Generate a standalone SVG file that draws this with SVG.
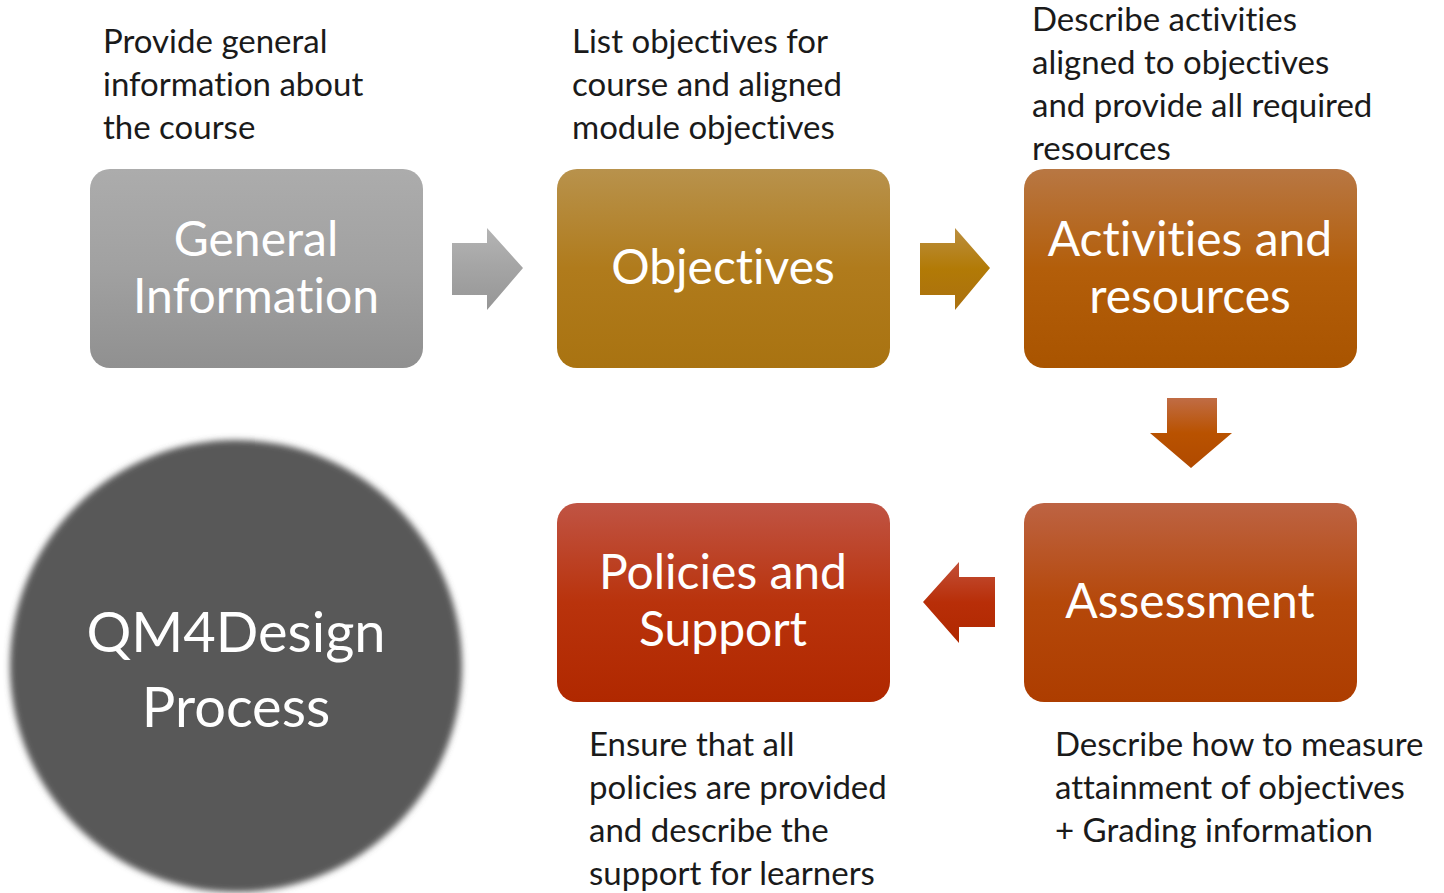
<svg xmlns="http://www.w3.org/2000/svg" width="1444" height="893" viewBox="0 0 1444 893">
  <defs>
    <linearGradient id="gGray" x1="0" y1="0" x2="0" y2="1">
      <stop offset="0" stop-color="#acacac"/>
      <stop offset="0.5" stop-color="#a1a1a1"/>
      <stop offset="1" stop-color="#909090"/>
    </linearGradient>
    <linearGradient id="gGold" x1="0" y1="0" x2="0" y2="1">
      <stop offset="0" stop-color="#b8924c"/>
      <stop offset="0.5" stop-color="#b07b1c"/>
      <stop offset="1" stop-color="#a97311"/>
    </linearGradient>
    <linearGradient id="gOrange" x1="0" y1="0" x2="0" y2="1">
      <stop offset="0" stop-color="#b87743"/>
      <stop offset="0.5" stop-color="#b35e0a"/>
      <stop offset="1" stop-color="#a95400"/>
    </linearGradient>
    <linearGradient id="gRust" x1="0" y1="0" x2="0" y2="1">
      <stop offset="0" stop-color="#bd6343"/>
      <stop offset="0.5" stop-color="#b5480a"/>
      <stop offset="1" stop-color="#ad3d00"/>
    </linearGradient>
    <linearGradient id="gRed" x1="0" y1="0" x2="0" y2="1">
      <stop offset="0" stop-color="#c05444"/>
      <stop offset="0.5" stop-color="#b9330c"/>
      <stop offset="1" stop-color="#b02800"/>
    </linearGradient>
    <linearGradient id="aGray" x1="0" y1="0" x2="0" y2="1">
      <stop offset="0" stop-color="#b4b4b4"/>
      <stop offset="0.5" stop-color="#a4a4a4"/>
      <stop offset="1" stop-color="#969696"/>
    </linearGradient>
    <linearGradient id="aGold" x1="0" y1="0" x2="0" y2="1">
      <stop offset="0" stop-color="#bb8f40"/>
      <stop offset="0.5" stop-color="#b27a06"/>
      <stop offset="1" stop-color="#aa7010"/>
    </linearGradient>
    <linearGradient id="aOrange" x1="0" y1="0" x2="0" y2="1">
      <stop offset="0" stop-color="#c06c45"/>
      <stop offset="0.5" stop-color="#b95200"/>
      <stop offset="1" stop-color="#b04a00"/>
    </linearGradient>
    <linearGradient id="aRed" x1="0" y1="0" x2="0" y2="1">
      <stop offset="0" stop-color="#c25038"/>
      <stop offset="0.5" stop-color="#b82e08"/>
      <stop offset="1" stop-color="#b02800"/>
    </linearGradient>
    <filter id="soft" x="-10%" y="-10%" width="120%" height="120%">
      <feGaussianBlur stdDeviation="3"/>
    </filter>
  </defs>
  <style>
    text { font-family: "Lato", "Liberation Sans", sans-serif; font-variant-ligatures: none; }
    .desc { font-size: 33px; fill: #1a1a1a; }
    .label { font-size: 48px; fill: #ffffff; text-anchor: middle; }
    .hub { font-size: 56px; fill: #ffffff; text-anchor: middle; }
  </style>

  <rect width="1444" height="893" fill="#ffffff"/>

  <!-- central hub circle -->
  <g id="hub">
    <circle cx="236" cy="666" r="226" fill="#595959" filter="url(#soft)"/>
    <text class="hub" x="236" y="652">QM4Design</text>
    <text class="hub" x="236" y="727">Process</text>
  </g>

  <!-- process steps -->
  <g id="general-information">
    <rect x="90" y="169" width="333" height="199" rx="20" fill="url(#gGray)"/>
    <text class="label" x="256" y="256">General</text>
    <text class="label" x="256" y="313">Information</text>
    <text class="desc" x="103" y="53">Provide general</text>
    <text class="desc" x="103" y="96">information about</text>
    <text class="desc" x="103" y="139">the course</text>
  </g>

  <g id="objectives">
    <rect x="557" y="169" width="333" height="199" rx="20" fill="url(#gGold)"/>
    <text class="label" x="723" y="284">Objectives</text>
    <text class="desc" x="572" y="53">List objectives for</text>
    <text class="desc" x="572" y="96">course and aligned</text>
    <text class="desc" x="572" y="139">module objectives</text>
  </g>

  <g id="activities-resources">
    <rect x="1024" y="169" width="333" height="199" rx="20" fill="url(#gOrange)"/>
    <text class="label" x="1190" y="256">Activities and</text>
    <text class="label" x="1190" y="313">resources</text>
    <text class="desc" x="1032" y="31">Describe activities</text>
    <text class="desc" x="1032" y="74">aligned to objectives</text>
    <text class="desc" x="1032" y="117">and provide all required</text>
    <text class="desc" x="1032" y="160">resources</text>
  </g>

  <g id="assessment">
    <rect x="1024" y="503" width="333" height="199" rx="20" fill="url(#gRust)"/>
    <text class="label" x="1190" y="618">Assessment</text>
    <text class="desc" x="1055" y="756">Describe how to measure</text>
    <text class="desc" x="1055" y="799">attainment of objectives</text>
    <text class="desc" x="1055" y="842">+ Grading information</text>
  </g>

  <g id="policies-support">
    <rect x="557" y="503" width="333" height="199" rx="20" fill="url(#gRed)"/>
    <text class="label" x="723" y="589">Policies and</text>
    <text class="label" x="723" y="646">Support</text>
    <text class="desc" x="589" y="756">Ensure that all</text>
    <text class="desc" x="589" y="799">policies are provided</text>
    <text class="desc" x="589" y="842">and describe the</text>
    <text class="desc" x="589" y="885">support for learners</text>
  </g>

  <!-- block arrows between steps -->
  <g id="connectors">
    <polygon points="452,243 487,243 487,228 523,268 487,310 487,295 452,295" fill="url(#aGray)"/>
    <polygon points="920,243 955,243 955,228 990,268 955,310 955,295 920,295" fill="url(#aGold)"/>
    <polygon points="1167,398 1217,398 1217,433 1232,433 1191,468 1150,433 1167,433" fill="url(#aOrange)"/>
    <polygon points="995,577 959,577 959,562 923,602 959,643 959,627 995,627" fill="url(#aRed)"/>
  </g>
</svg>
